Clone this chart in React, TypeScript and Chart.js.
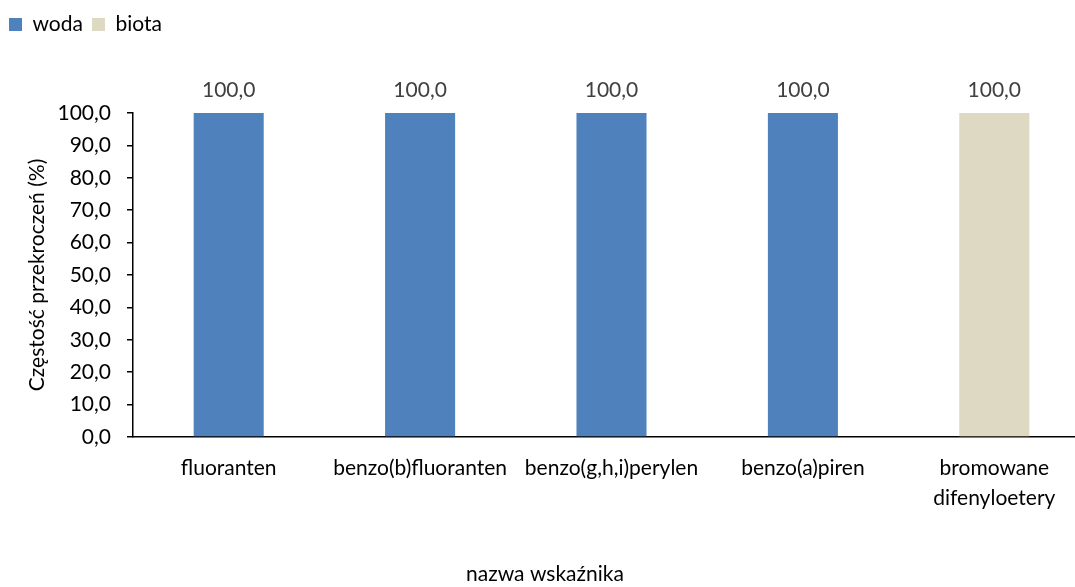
import React, { useEffect, useRef } from "react";
import { Chart, registerables } from "chart.js";

Chart.register(...registerables);

const categories: (string | string[])[] = [
  "fluoranten",
  "benzo(b)fluoranten",
  "benzo(g,h,i)perylen",
  "benzo(a)piren",
  ["bromowane", "difenyloetery"],
];
const wodaValues: (number | null)[] = [100, 100, 100, 100, null];
const biotaValues: (number | null)[] = [null, null, null, null, 100];
const seriesNames = ["woda", "biota"];
const yTitle = "Częstość przekroczeń (%)";
const xTitle = "nazwa wskaźnika";

const FONT = "Lato";
const FS = 21;
const fmt = (v: number) => v.toFixed(1).replace(".", ",");

const legendSpacer = {
  id: "legendSpacer",
  beforeUpdate(chart: any) {
    const lg = chart.legend;
    if (lg && !lg._spaced) {
      const orig = lg.fit;
      lg.fit = function () {
        orig.call(this);
        this.height += 68;
      };
      lg._spaced = true;
    }
  },
};

const dataLabels = {
  id: "dataLabels",
  afterDatasetsDraw(chart: any) {
    const ctx = chart.ctx;
    ctx.save();
    ctx.font = `${FS}px ${FONT}`;
    ctx.fillStyle = "#404040";
    ctx.textAlign = "center";
    ctx.textBaseline = "alphabetic";
    chart.data.datasets.forEach((ds: any, i: number) => {
      const meta = chart.getDatasetMeta(i);
      meta.data.forEach((el: any, j: number) => {
        const v = ds.data[j];
        if (v === null || v === undefined) return;
        ctx.fillText(fmt(v), el.x, el.y - 16);
      });
    });
    ctx.restore();
  },
};

export default function App() {
  const ref = useRef<HTMLCanvasElement>(null);
  useEffect(() => {
    if (!ref.current) return;
    const chart = new Chart(ref.current, {
      type: "bar",
      data: {
        labels: categories as any,
        datasets: [
          {
            label: seriesNames[0],
            data: wodaValues,
            backgroundColor: "#4F81BD",
            grouped: false,
            categoryPercentage: 0.366,
            barPercentage: 1,
          } as any,
          {
            label: seriesNames[1],
            data: biotaValues,
            backgroundColor: "#DDD9C3",
            grouped: false,
            categoryPercentage: 0.366,
            barPercentage: 1,
          } as any,
        ],
      },
      options: {
        animation: false,
        responsive: false,
        devicePixelRatio: 1,
        layout: { padding: { left: 0, right: 0, top: 5, bottom: 0 } },
        plugins: {
          legend: {
            position: "top",
            align: "start",
            labels: {
              boxWidth: 13,
              boxHeight: 13,
              padding: 9,
              color: "#000",
              font: { family: FONT, size: FS },
            },
          },
          title: {
            display: true,
            text: xTitle,
            position: "bottom",
            color: "#000",
            font: { family: FONT, size: FS, weight: "normal" },
            padding: { top: 40, bottom: 0 },
          },
          tooltip: { enabled: false },
        },
        scales: {
          x: {
            grid: { display: false },
            border: { display: true, color: "#000", width: 1.5 },
            ticks: {
              color: "#000",
              font: { family: FONT, size: FS, lineHeight: 1.4 },
              padding: 9,
              maxRotation: 0,
              autoSkip: false,
            },
          },
          y: {
            min: 0,
            max: 100,
            afterFit: (scale: any) => {
              scale.width = 133;
            },
            grid: {
              drawOnChartArea: false,
              drawTicks: true,
              tickLength: 6,
              color: "#000",
              lineWidth: 1.5,
            },
            border: { display: true, color: "#000", width: 1.5 },
            ticks: {
              stepSize: 10,
              color: "#000",
              font: { family: FONT, size: FS },
              padding: 16,
              callback: (v: any) => fmt(Number(v)),
            },
            title: {
              display: true,
              text: yTitle,
              color: "#000",
              font: { family: FONT, size: FS },
              padding: { top: 25, bottom: 0 },
            },
          },
        },
      },
      plugins: [legendSpacer, dataLabels],
    });
    return () => chart.destroy();
  }, []);
  return (
    <div
      style={{
        position: "fixed",
        left: 0,
        top: 0,
        width: 1075,
        height: 587,
        overflow: "hidden",
        background: "#fff",
      }}
    >
      <canvas ref={ref} width={1090} height={587} style={{ display: "block" }} />
    </div>
  );
}
